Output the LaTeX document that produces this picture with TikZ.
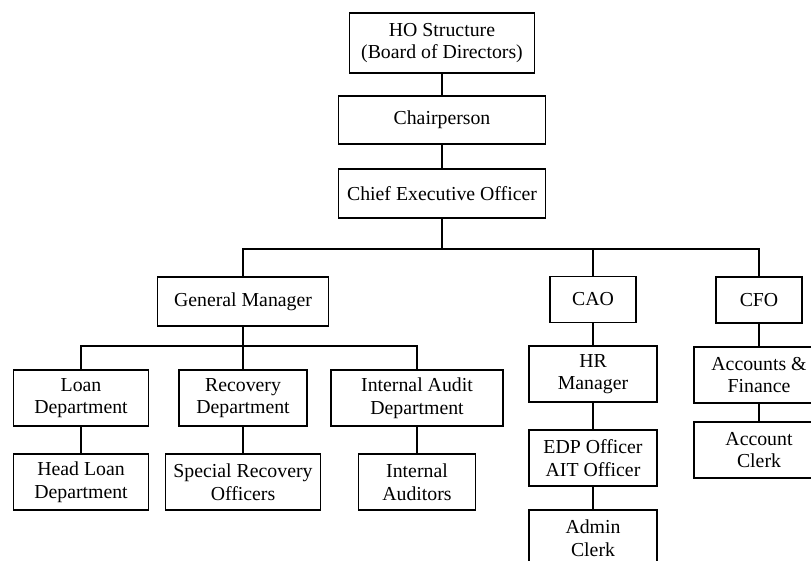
\documentclass[tikz,border=0pt]{standalone}
\usepackage{fontspec}
\setmainfont{Liberation Serif}
\begin{document}
\begin{tikzpicture}[x=1pt,y=-1pt,
  box/.style={draw, line width=1.5pt, align=center, inner sep=0pt,
    font=\fontsize{19.8}{22.5}\selectfont},
  link/.style={line width=1.5pt}]
\useasboundingbox (0,0) rectangle (811,560);
% top of the hierarchy
\node[box, minimum width=185pt, minimum height=60pt] (ho) at (442,43) {HO Structure\\(Board of Directors)};
\node[box, minimum width=207pt, minimum height=48pt] (chair) at (442,120) {Chairperson};
\node[box, minimum width=207pt, minimum height=49pt] (ceo) at (442,193.5) {Chief Executive Officer};
% second level
\node[box, minimum width=171pt, minimum height=49pt] (gm) at (243,301.5) {General Manager};
\node[box, minimum width=86pt, minimum height=46pt] (cao) at (593,299.5) {CAO};
\node[box, minimum width=86pt, minimum height=46pt] (cfo) at (759,300) {CFO};
% departments under the general manager
\node[box, minimum width=135pt, minimum height=56pt] (loan) at (81,398) {Loan\\Department};
\node[box, minimum width=128pt, minimum height=56pt] (recovery) at (243,398) {Recovery\\Department};
\node[box, minimum width=172pt, minimum height=56pt] (ia) at (417,398) {Internal Audit\\Department};
\node[box, minimum width=135pt, minimum height=56pt] (headloan) at (81,482) {Head Loan\\Department};
\node[box, minimum width=155pt, minimum height=56pt] (special) at (243,482) {Special Recovery\\Officers};
\node[box, minimum width=117pt, minimum height=56pt] (auditors) at (417,482) {Internal\\Auditors};
% administration branch
\node[box, minimum width=128pt, minimum height=56pt] (hr) at (593,374) {HR\\Manager};
\node[box, minimum width=128pt, minimum height=56pt] (edp) at (593,458) {EDP Officer\\AIT Officer};
\node[box, minimum width=128pt, minimum height=56pt] (admin) at (593,538) {Admin\\Clerk};
% finance branch
\node[box, minimum width=130pt, minimum height=56pt] (af) at (759,375) {Accounts \&\\Finance};
\node[box, minimum width=130pt, minimum height=56pt] (acclerk) at (759,450) {Account\\Clerk};
% connectors
\coordinate (bus) at (442,249);
\coordinate (gmbus) at (243,346);
\draw[link] (ho) -- (chair);
\draw[link] (chair) -- (ceo);
\draw[link] (ceo) -- (bus);
\draw[link] (gm.north) |- (bus) -| (cfo.north);
\draw[link] (cao.north) -- (cao.north |- bus);
\draw[link] (gm.south) -- (gmbus);
\draw[link] (loan.north) |- (gmbus) -| (ia.north);
\draw[link] (recovery.north) -- (recovery.north |- gmbus);
\draw[link] (loan) -- (headloan);
\draw[link] (recovery) -- (special);
\draw[link] (ia) -- (auditors);
\draw[link] (cao) -- (hr);
\draw[link] (hr) -- (edp);
\draw[link] (edp) -- (admin);
\draw[link] (cfo) -- (af);
\draw[link] (af) -- (acclerk);
\end{tikzpicture}
\end{document}
